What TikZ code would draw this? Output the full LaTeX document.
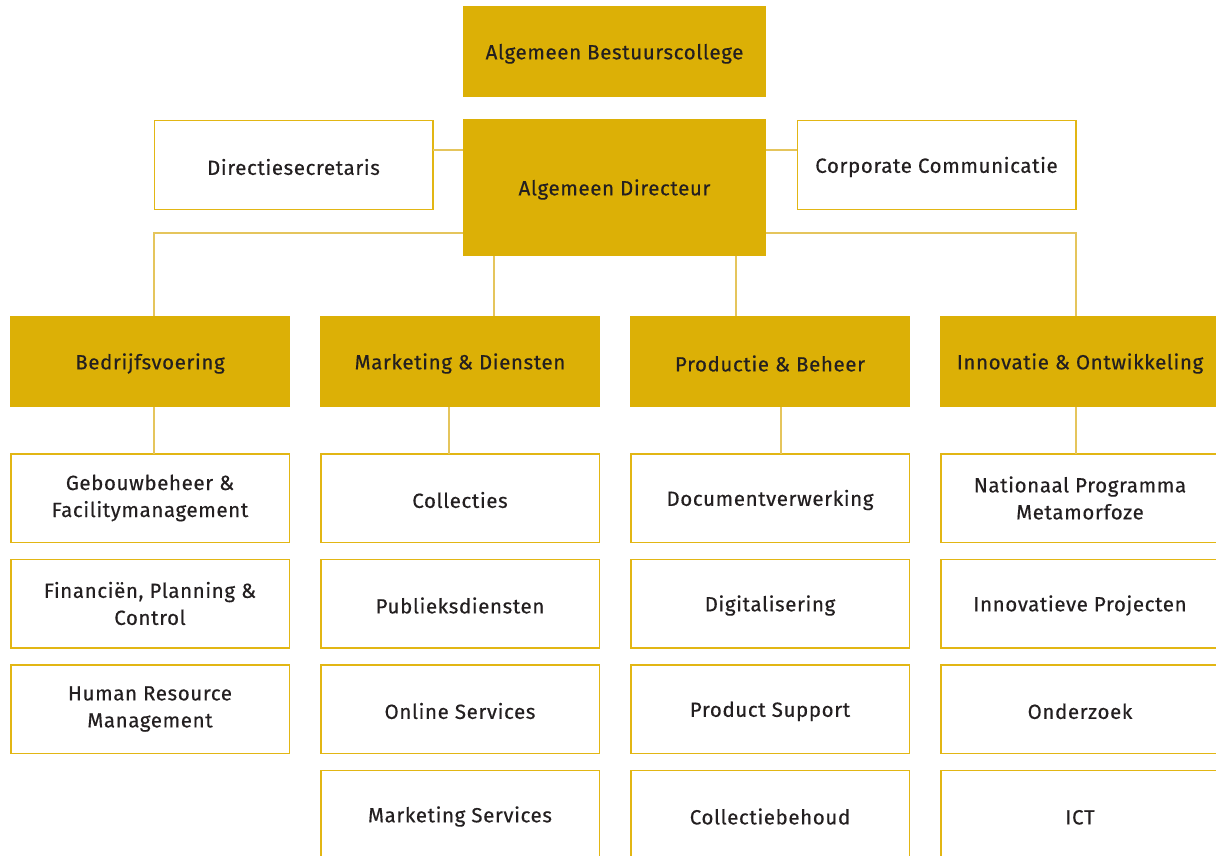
\documentclass[tikz,border=0pt]{standalone}
\usepackage{fontspec}
\setmainfont{Fira Sans}[LetterSpace=3, FakeBold=0.4]
\usetikzlibrary{positioning}

\definecolor{gold}{HTML}{DCB006}
\definecolor{goldedge}{HTML}{E2B614}
\definecolor{goldline}{HTML}{E5C55C}
\definecolor{ink}{HTML}{231F20}

\tikzset{
    unit/.style={fill=gold, minimum width=280pt, minimum height=91pt,
        inner sep=0pt, outer sep=0pt, align=center, text=ink,
        font=\fontsize{20.5}{27}\selectfont,
        execute at begin node={\rule{0pt}{20pt}}},
    dept/.style={unit, fill=white, draw=goldedge, line width=1.5pt,
        minimum width=278.5pt, minimum height=88.5pt},
    link/.style={draw=goldline, line width=1.6pt}
}

\begin{document}
\begin{tikzpicture}[x=1pt, y=-1pt]
    % Page frame (pixel grid, y downwards)
    \useasboundingbox (0,0) rectangle (1216,856);

    % Top of the organisation
    \node[unit, minimum width=303pt] (board) at (614.5,51.5) {Algemeen Bestuurscollege};
    \node[unit, minimum width=303pt, minimum height=137pt] (director) at (614.5,187.5) {Algemeen Directeur};
    \node[dept] (secretary) at (293.5,165) {Directiesecretaris};
    \node[dept] (communication) at (936.5,165) {Corporate Communicatie};

    % Divisions
    \node[unit] (operations) at (150,361.5) {Bedrijfsvoering};
    \node[unit] (marketing) at (460,361.5) {Marketing \& Diensten};
    \node[unit] (production) at (770,361.5) {Productie \& Beheer};
    \node[unit] (innovation) at (1080,361.5) {Innovatie \& Ontwikkeling};

    % Departments of Bedrijfsvoering
    \node[dept] (facility) at (150,498) {Gebouwbeheer \&\\Facilitymanagement};
    \node[dept, below=17pt of facility] (finance) {Financiën, Planning \&\\Control};
    \node[dept, below=17pt of finance] (hrm) {Human Resource\\Management};

    % Departments of Marketing & Diensten
    \node[dept] (collections) at (460,498) {Collecties};
    \node[dept, below=17pt of collections] (public) {Publieksdiensten};
    \node[dept, below=17pt of public] (online) {Online Services};
    \node[dept, below=17pt of online] (mservices) {Marketing Services};

    % Departments of Productie & Beheer
    \node[dept] (documents) at (770,498) {Documentverwerking};
    \node[dept, below=17pt of documents] (digital) {Digitalisering};
    \node[dept, below=17pt of digital] (support) {Product Support};
    \node[dept, below=17pt of support] (preservation) {Collectiebehoud};

    % Departments of Innovatie & Ontwikkeling
    \node[dept] (metamorfoze) at (1080,498) {Nationaal Programma\\Metamorfoze};
    \node[dept, below=17pt of metamorfoze] (projects) {Innovatieve Projecten};
    \node[dept, below=17pt of projects] (research) {Onderzoek};
    \node[dept, below=17pt of research] (ict) {ICT};

    % Staff lines next to the director
    \draw[link] ([yshift=15pt]secretary.east) -- ([yshift=15pt]secretary.east -| director.west);
    \draw[link] ([yshift=15pt]communication.west) -- ([yshift=15pt]communication.west -| director.east);

    % Rail from the director to the divisions
    \coordinate (rail) at (0,233);
    \draw[link] ([xshift=4pt]operations.north) |- (director.west |- rail);
    \draw[link] ([xshift=-4pt]innovation.north) |- (director.east |- rail);
    \coordinate (mtop) at ([xshift=34pt]marketing.north);
    \coordinate (ptop) at ([xshift=-34pt]production.north);
    \draw[link] (mtop) -- (mtop |- director.south);
    \draw[link] (ptop) -- (ptop |- director.south);

    % Divisions down to their first department
    \foreach \top/\sub/\dx in {operations/facility/4, marketing/collections/-11,
        production/documents/11, innovation/metamorfoze/-4}
        \draw[link] ([xshift=\dx pt]\top.south) -- ([xshift=\dx pt]\sub.north);
\end{tikzpicture}
\end{document}
